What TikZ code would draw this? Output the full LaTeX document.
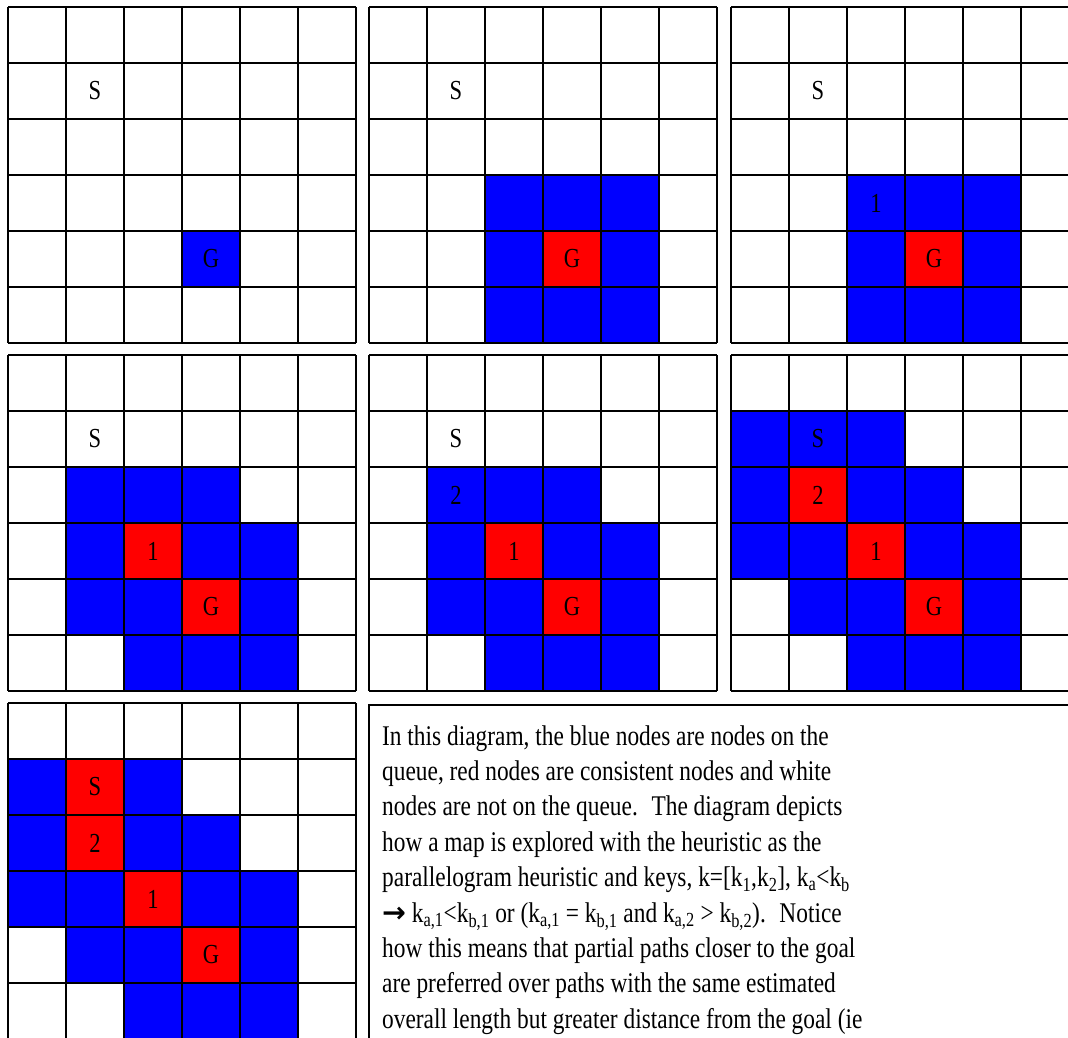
\documentclass[tikz,border=0pt]{standalone}
\usepackage{fontspec}
\setmainfont{Liberation Serif}[FakeStretch=0.82]
\newfontfamily\arrowfont{DejaVu Sans}
\begin{document}
\begin{tikzpicture}[x=1pt, y=1pt, every node/.style={font=\fontsize{27.5}{35}\selectfont},
  bluecell/.style={fill=blue},
  redcell/.style={fill=red},
  gridline/.style={draw=black,line width=1.6pt},
  textline/.style={anchor=base west,inner sep=0pt,font=\fontsize{28.5}{35}\selectfont}]
\useasboundingbox (0,0) rectangle (1068,-1038);
\clip (0,0) rectangle (1068,-1038);
\fill[white] (0,0) rectangle (1068,-1038);
% step 1: only the goal on the queue
\begin{scope}[shift={(8,-7)}, x=58pt, y=-56pt]
  \foreach \c/\r in {3/4} \fill[bluecell] (\c,\r) rectangle ++(1,1);
  \foreach \i in {0,...,6} {\draw[gridline] (\i,0) -- (\i,6); \draw[gridline] (0,\i) -- (6,\i);}
  \node (s1) at (1.5,1.5) {S};
  \node (g1) at (3.5,4.5) {G};
\end{scope}
% step 2: goal expanded
\begin{scope}[shift={(369,-7)}, x=58pt, y=-56pt]
  \foreach \c/\r in {2/3,3/3,4/3,2/4,4/4,2/5,3/5,4/5} \fill[bluecell] (\c,\r) rectangle ++(1,1);
  \fill[redcell] (3,4) rectangle ++(1,1);
  \foreach \i in {0,...,6} {\draw[gridline] (\i,0) -- (\i,6); \draw[gridline] (0,\i) -- (6,\i);}
  \node (s2) at (1.5,1.5) {S};
  \node (g2) at (3.5,4.5) {G};
\end{scope}
% step 3: next node picked
\begin{scope}[shift={(731,-7)}, x=58pt, y=-56pt]
  \foreach \c/\r in {2/3,3/3,4/3,2/4,4/4,2/5,3/5,4/5} \fill[bluecell] (\c,\r) rectangle ++(1,1);
  \fill[redcell] (3,4) rectangle ++(1,1);
  \foreach \i in {0,...,6} {\draw[gridline] (\i,0) -- (\i,6); \draw[gridline] (0,\i) -- (6,\i);}
  \node (s3) at (1.5,1.5) {S};
  \node (n3) at (2.5,3.5) {1};
  \node (g3) at (3.5,4.5) {G};
\end{scope}
% step 4
\begin{scope}[shift={(8,-355)}, x=58pt, y=-56pt]
  \foreach \c/\r in {1/2,2/2,3/2,1/3,3/3,4/3,1/4,2/4,4/4,2/5,3/5,4/5} \fill[bluecell] (\c,\r) rectangle ++(1,1);
  \foreach \c/\r in {2/3,3/4} \fill[redcell] (\c,\r) rectangle ++(1,1);
  \foreach \i in {0,...,6} {\draw[gridline] (\i,0) -- (\i,6); \draw[gridline] (0,\i) -- (6,\i);}
  \node (s4) at (1.5,1.5) {S};
  \node (n4) at (2.5,3.5) {1};
  \node (g4) at (3.5,4.5) {G};
\end{scope}
% step 5
\begin{scope}[shift={(369,-355)}, x=58pt, y=-56pt]
  \foreach \c/\r in {1/2,2/2,3/2,1/3,3/3,4/3,1/4,2/4,4/4,2/5,3/5,4/5} \fill[bluecell] (\c,\r) rectangle ++(1,1);
  \foreach \c/\r in {2/3,3/4} \fill[redcell] (\c,\r) rectangle ++(1,1);
  \foreach \i in {0,...,6} {\draw[gridline] (\i,0) -- (\i,6); \draw[gridline] (0,\i) -- (6,\i);}
  \node (s5) at (1.5,1.5) {S};
  \node (m5) at (1.5,2.5) {2};
  \node (n5) at (2.5,3.5) {1};
  \node (g5) at (3.5,4.5) {G};
\end{scope}
% step 6
\begin{scope}[shift={(731,-355)}, x=58pt, y=-56pt]
  \foreach \c/\r in {0/1,1/1,2/1,0/2,2/2,3/2,0/3,1/3,3/3,4/3,1/4,2/4,4/4,2/5,3/5,4/5} \fill[bluecell] (\c,\r) rectangle ++(1,1);
  \foreach \c/\r in {1/2,2/3,3/4} \fill[redcell] (\c,\r) rectangle ++(1,1);
  \foreach \i in {0,...,6} {\draw[gridline] (\i,0) -- (\i,6); \draw[gridline] (0,\i) -- (6,\i);}
  \node (s6) at (1.5,1.5) {S};
  \node (m6) at (1.5,2.5) {2};
  \node (n6) at (2.5,3.5) {1};
  \node (g6) at (3.5,4.5) {G};
\end{scope}
% step 7: start reached
\begin{scope}[shift={(8,-703)}, x=58pt, y=-56pt]
  \foreach \c/\r in {0/1,2/1,0/2,2/2,3/2,0/3,1/3,3/3,4/3,1/4,2/4,4/4,2/5,3/5,4/5} \fill[bluecell] (\c,\r) rectangle ++(1,1);
  \foreach \c/\r in {1/1,1/2,2/3,3/4} \fill[redcell] (\c,\r) rectangle ++(1,1);
  \foreach \i in {0,...,6} {\draw[gridline] (\i,0) -- (\i,6); \draw[gridline] (0,\i) -- (6,\i);}
  \node (s7) at (1.5,1.5) {S};
  \node (m7) at (1.5,2.5) {2};
  \node (n7) at (2.5,3.5) {1};
  \node (g7) at (3.5,4.5) {G};
\end{scope}
% caption box
\draw[gridline] (369,-705) rectangle (1100,-1080);
\node[textline] (l1) at (382,-745) {In this diagram, the blue nodes are nodes on the};
\node[textline] (l2) at (382,-780.4) {queue, red nodes are consistent nodes and white};
\node[textline] (l3) at (382,-815.8) {nodes are not on the queue.~ The diagram depicts};
\node[textline] (l4) at (382,-851.2) {how a map is explored with the heuristic as the};
\node[textline] (l5) at (382,-886.6) {parallelogram heuristic and keys, k=[k\textsubscript{1},k\textsubscript{2}], k\textsubscript{a}<k\textsubscript{b}};
\node[textline] (l6) at (382,-922) {{\arrowfont\bfseries →} k\textsubscript{a,1}<k\textsubscript{b,1} or (k\textsubscript{a,1} = k\textsubscript{b,1} and k\textsubscript{a,2} > k\textsubscript{b,2}).~ Notice};
\node[textline] (l7) at (382,-957.4) {how this means that partial paths closer to the goal};
\node[textline] (l8) at (382,-992.8) {are preferred over paths with the same estimated};
\node[textline] (l9) at (382,-1028.2) {overall length but greater distance from the goal (ie};
\end{tikzpicture}
\end{document}
